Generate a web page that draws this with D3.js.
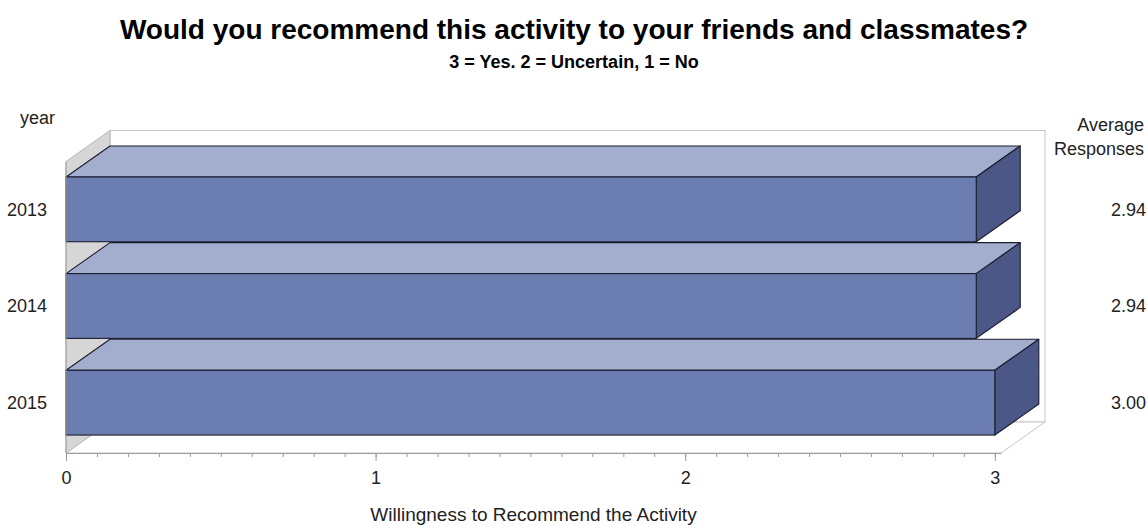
<!DOCTYPE html>
<html>
<head>
<meta charset="utf-8">
<script src="https://cdn.jsdelivr.net/npm/d3@7"></script>
<style>
  html, body { margin: 0; padding: 0; background: #fff; }
  svg { display: block; }
  text { font-family: "Liberation Sans", Arial, sans-serif; fill: #222; }
</style>
</head>
<body>
<svg id="chart" width="1148" height="525"></svg>
<script>
// Survey data: average response per year (3 = Yes, 2 = Uncertain, 1 = No)
const years = ["2013", "2014", "2015"];
const averages = [2.94, 2.94, 3.00];
const majorTicks = [0, 1, 2, 3];
const minorTicks = d3.range(0, 31).map(i => i / 10);

const titleText = "Would you recommend this activity to your friends and classmates?";
const subtitleText = "3 = Yes. 2 = Uncertain, 1 = No";
const xTitle = "Willingness to Recommend the Activity";
const yTitle = "year";
const statTitle = ["Average", "Responses"];

const W = 1148, H = 525;
const svg = d3.select("#chart");

// Front plane of the 3D frame, and the depth offset of the back wall
const frameLeft = 66, frameRight = 1001, frameTop = 161.5, axisY = 453;
const depthX = 44, depthY = -31;

const x = d3.scaleLinear().domain([0, 3.02]).range([frameLeft, frameRight]);
const y = d3.scaleBand().domain(years).range([161, 451])
  .paddingInner(0.33).paddingOuter(0.165);

const data = years.map((yr, i) => ({ year: yr, value: averages[i] }));

// Titles
svg.append("text").attr("x", W / 2).attr("y", 39)
  .attr("text-anchor", "middle").style("font-weight", "bold").style("font-size", "28px")
  .style("fill", "#000").text(titleText);
svg.append("text").attr("x", W / 2).attr("y", 68)
  .attr("text-anchor", "middle").style("font-weight", "bold").style("font-size", "18px")
  .style("fill", "#000").text(subtitleText);

const frame = svg.append("g");
const wallStroke = "#c4c4c4";
const line = d3.line();

// Back wall
frame.append("rect")
  .attr("x", frameLeft + depthX).attr("y", frameTop + depthY)
  .attr("width", frameRight - frameLeft).attr("height", axisY - frameTop)
  .attr("fill", "#fff").attr("stroke", wallStroke);

// Floor
frame.append("path")
  .attr("d", line([[frameLeft, axisY], [frameRight, axisY],
                   [frameRight + depthX, axisY + depthY], [frameLeft + depthX, axisY + depthY]]) + "Z")
  .attr("fill", "#fff").attr("stroke", wallStroke);

// Left wall
frame.append("path")
  .attr("d", line([[frameLeft, frameTop], [frameLeft + depthX, frameTop + depthY],
                   [frameLeft + depthX, axisY + depthY], [frameLeft, axisY]]) + "Z")
  .attr("fill", "#d6d6d6").attr("stroke", "#b8b8b8");

// 3D bars
const barStroke = "#1b1d2e";
const bars = svg.append("g").selectAll("g").data(data).join("g");

bars.append("path")
  .attr("d", d => {
    const x0 = x(0), x1 = x(d.value), y0 = y(d.year);
    return line([[x0, y0], [x0 + depthX, y0 + depthY], [x1 + depthX, y0 + depthY], [x1, y0]]) + "Z";
  })
  .attr("fill", "#a3aecf").attr("stroke", barStroke).attr("stroke-width", 1.1)
  .attr("stroke-linejoin", "round");

bars.append("path")
  .attr("d", d => {
    const x1 = x(d.value), y0 = y(d.year), y1 = y0 + y.bandwidth();
    return line([[x1, y0], [x1 + depthX, y0 + depthY], [x1 + depthX, y1 + depthY], [x1, y1]]) + "Z";
  })
  .attr("fill", "#4a5787").attr("stroke", barStroke).attr("stroke-width", 1.1)
  .attr("stroke-linejoin", "round");

bars.append("rect")
  .attr("x", x(0)).attr("y", d => y(d.year))
  .attr("width", d => x(d.value) - x(0)).attr("height", y.bandwidth())
  .attr("fill", "#6c7db1").attr("stroke", barStroke).attr("stroke-width", 1.1);

// Front-left edge of the frame
svg.append("line")
  .attr("x1", frameLeft).attr("x2", frameLeft)
  .attr("y1", frameTop).attr("y2", axisY)
  .attr("stroke", "#a8a8a8").attr("stroke-width", 1.2);

// X axis: minor ticks every 0.1, labelled major ticks at integers
const axisG = svg.append("g").attr("transform", `translate(0,${axisY})`);
axisG.append("g")
  .call(d3.axisBottom(x).tickValues(minorTicks).tickSize(4).tickFormat(""))
  .call(g => g.select(".domain").remove());
axisG.append("g")
  .call(d3.axisBottom(x).tickValues(majorTicks).tickSize(8).tickPadding(10)
    .tickFormat(d3.format("d")).tickSizeOuter(0))
  .call(g => g.selectAll("text").style("font-size", "18px")
    .style("font-family", "'Liberation Sans', Arial, sans-serif").attr("fill", "#222"));
axisG.selectAll("line, path").attr("stroke", "#9c9c9c");

svg.append("text")
  .attr("x", (x(0) + frameRight) / 2).attr("y", 521)
  .attr("text-anchor", "middle").style("font-size", "19px").text(xTitle);

// Category labels on the left
svg.append("text").attr("x", 20).attr("y", 124).style("font-size", "18px").text(yTitle);
svg.append("g").selectAll("text").data(data).join("text")
  .attr("x", 47).attr("y", d => y(d.year) + y.bandwidth() / 2)
  .attr("dy", "0.36em").attr("text-anchor", "end").style("font-size", "18px")
  .text(d => d.year);

// Statistic column on the right
svg.append("g").selectAll("text").data(statTitle).join("text")
  .attr("x", 1144).attr("y", (d, i) => 131 + i * 24)
  .attr("text-anchor", "end").style("font-size", "18px").text(d => d);
svg.append("g").selectAll("text").data(data).join("text")
  .attr("x", 1146).attr("y", d => y(d.year) + y.bandwidth() / 2)
  .attr("dy", "0.36em").attr("text-anchor", "end").style("font-size", "18px")
  .text(d => d3.format(".2f")(d.value));
</script>
</body>
</html>
